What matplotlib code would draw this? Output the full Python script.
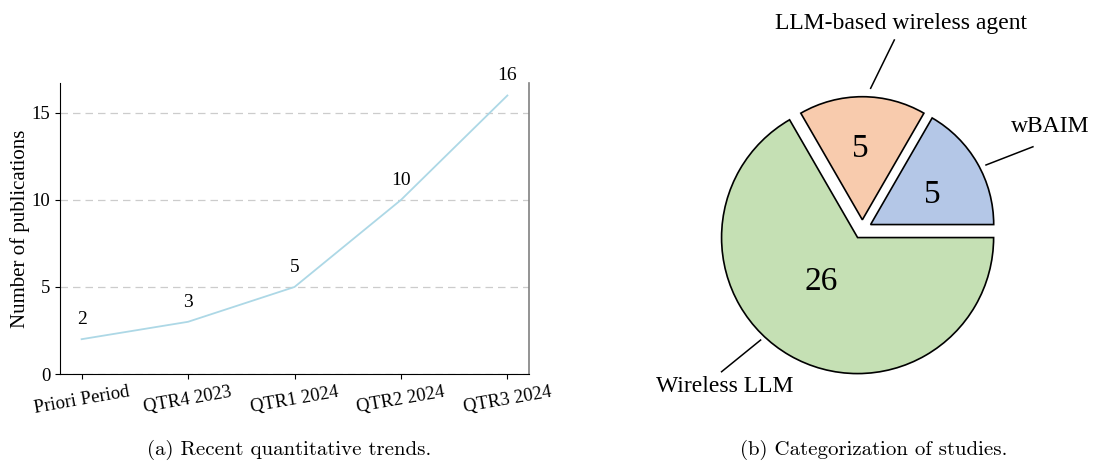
"""Publication trend line (a) and study categories pie (b)."""

import matplotlib
matplotlib.use('Agg')
import matplotlib.pyplot as plt

plt.rcParams['font.family'] = ['Liberation Serif', 'DejaVu Serif']

# (a) trend data
periods = ['Priori Period', 'QTR4 2023', 'QTR1 2024', 'QTR2 2024', 'QTR3 2024']
pubs    = [2, 3, 5, 10, 16]

# (b) categories, drawn counter-clockwise from 0 deg
categories  = ['wBAIM', 'LLM-based wireless agent', 'Wireless LLM']
shares      = [5, 5, 20]          # wedge sizes as drawn in the figure
count_text  = ['5', '5', '26']    # numbers printed inside the wedges
pie_colours = ['#b4c7e7', '#f8cbad', '#c5e0b4']

fig = plt.figure(figsize=(10.93, 4.61), dpi=100)

# ---- left: line chart
ax = fig.add_axes([0.0552, 0.1887, 0.4285, 0.6306])
x = list(range(len(periods)))
ax.plot(x, pubs, color='#add8e6', lw=1.3)
for xi, v in zip(x, pubs):
    ax.annotate(str(v), (xi, v), xytext=(0, 8), textcoords='offset points',
                ha='center', va='bottom', fontsize=14)

ax.set_xlim(-0.2, 4.2)
ax.set_ylim(0, 16.7)
ax.set_yticks([0, 5, 10, 15])
ax.set_xticks(x)
ax.set_xticklabels(periods, rotation=10, fontsize=13.5)
ax.tick_params(axis='y', labelsize=13.5)
ax.set_ylabel('Number of publications', fontsize=15, labelpad=1)
ax.grid(axis='y', ls=(0, (6, 4)), color='#cccccc', lw=0.9)
ax.set_axisbelow(True)
ax.spines['top'].set_visible(False)
ax.spines['right'].set_color('#808080')
ax.spines['right'].set_linewidth(1.2)

# ---- right: pie chart
axp = fig.add_axes([0.5855, 0.0889, 0.4026, 0.9111])
wedges, _ = axp.pie(
    shares, colors=pie_colours, startangle=0, counterclock=True,
    explode=[0.07, 0.07, 0.07],
    wedgeprops=dict(edgecolor='black', linewidth=1.2))
# the two small wedges are drawn with a shorter radius
for w in wedges[:2]:
    w.set_radius(0.905)
axp.set_aspect('auto')
axp.set_xlim(-1.635, 1.600)
axp.set_ylim(-1.402, 1.686)

# numbers inside wedges
inner_pos = [(0.517, 0.252), (-0.018, 0.596), (-0.299, -0.385)]
for txt, (tx, ty) in zip(count_text, inner_pos):
    axp.text(tx, ty, txt, ha='center', va='center', fontsize=24)

# outer labels with leader lines
outer = [
    ((0.909, 0.473), (1.254, 0.607), (1.379, 0.754)),
    ((0.061, 1.037), (0.235, 1.392), (0.284, 1.515)),
    ((-0.748, -0.814), (-1.035, -1.047), (-1.010, -1.157)),
]
for name, (p0, p1, pt) in zip(categories, outer):
    axp.plot([p0[0], p1[0]], [p0[1], p1[1]], color='black', lw=1.1)
    axp.text(pt[0], pt[1], name, ha='center', va='center', fontsize=17)

# captions
fig.text(0.2644, 0.025, '(a) Recent quantitative trends.', ha='center',
         va='center', fontsize=15, family='cmr10')
fig.text(0.799, 0.025, '(b) Categorization of studies.', ha='center',
         va='center', fontsize=15, family='cmr10')

fig.savefig('out.png', dpi=100)
